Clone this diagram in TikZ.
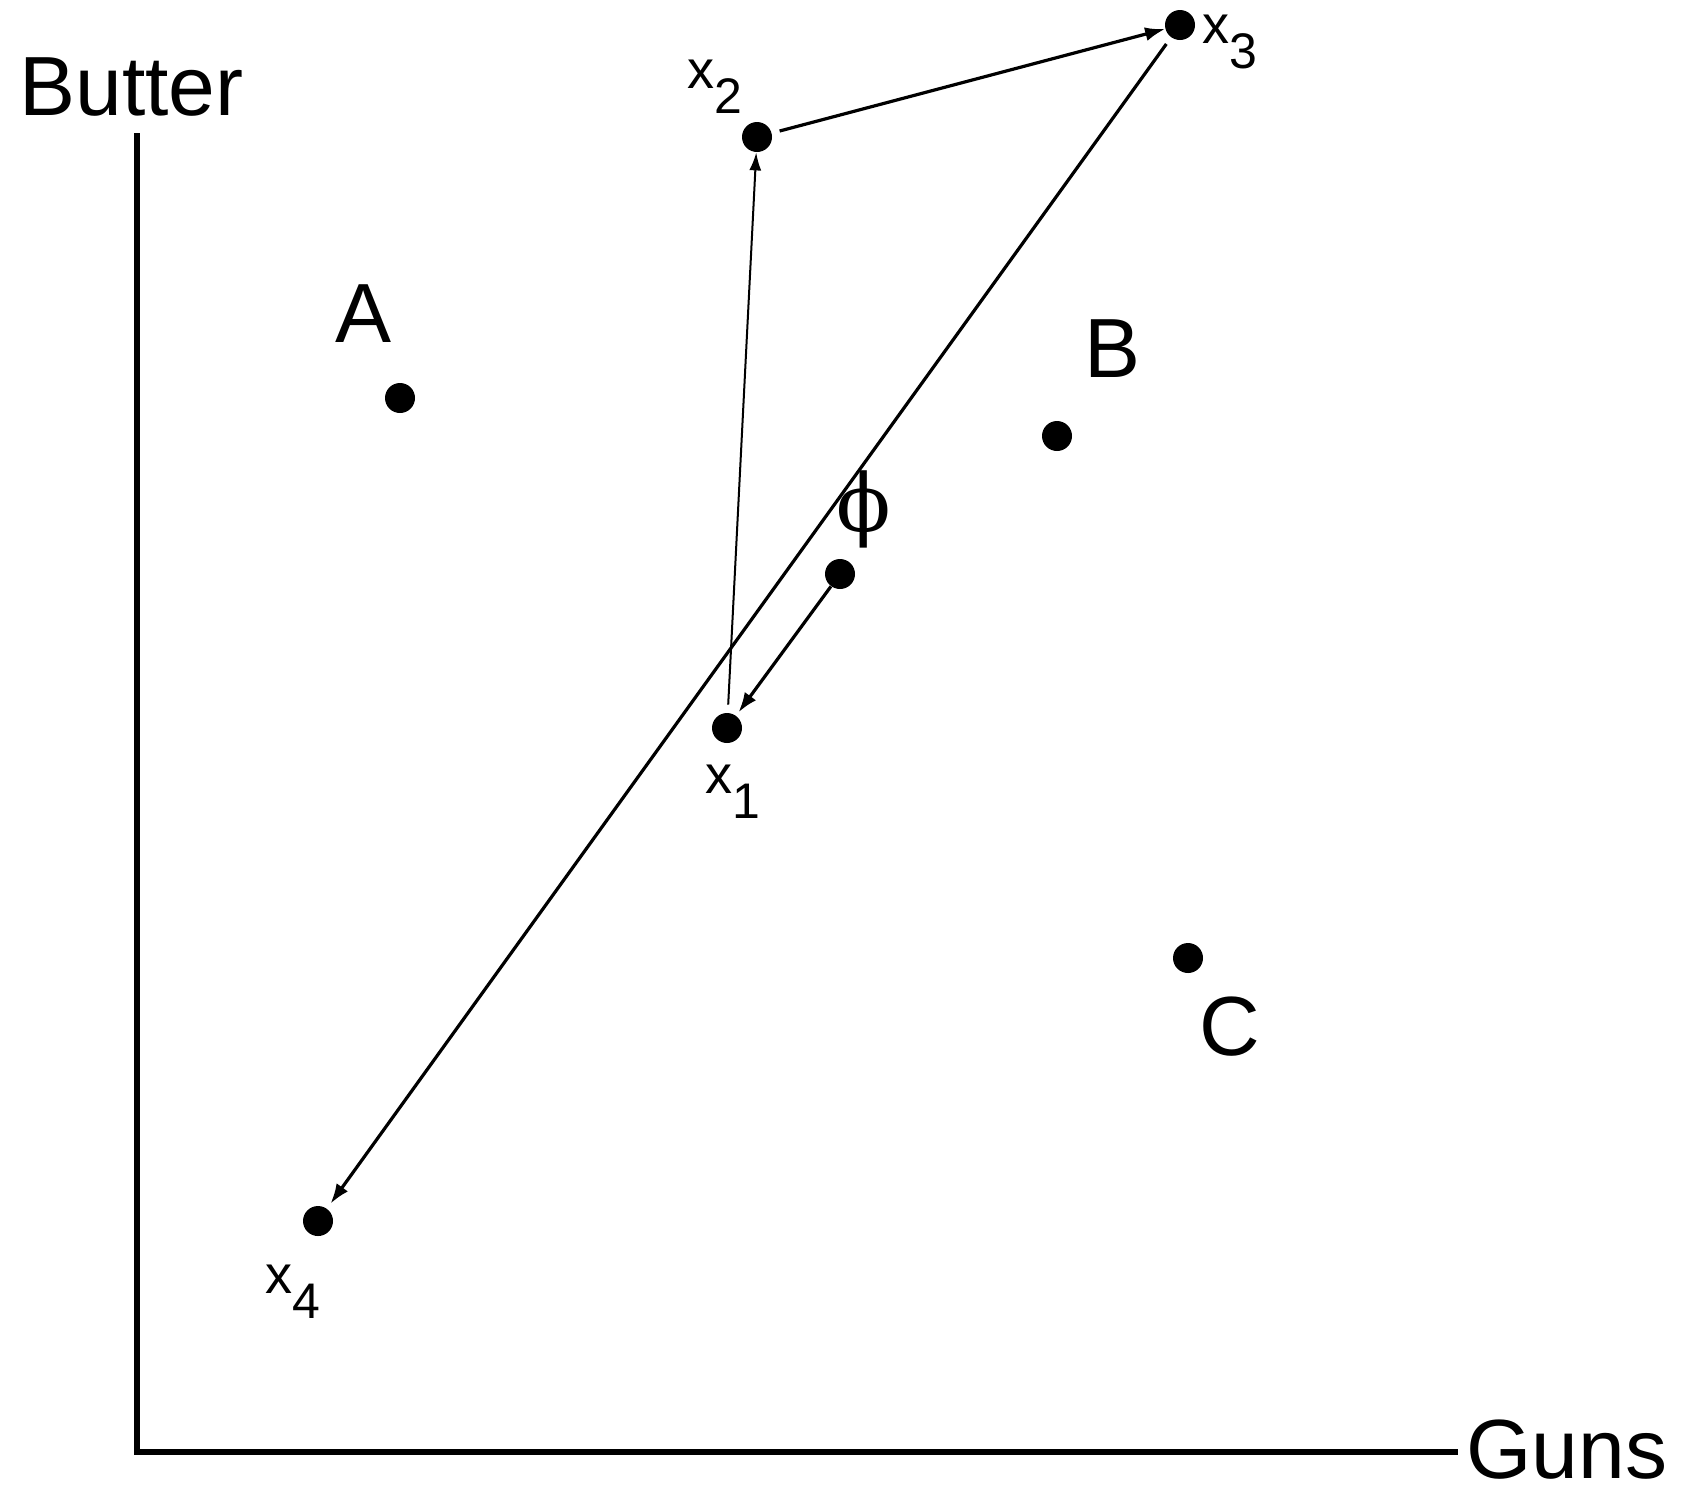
\documentclass[tikz,border=0pt]{standalone}
\usepackage{fontspec}
\setmainfont{Liberation Sans}
\newfontfamily\phifont{DejaVu Serif}
\usetikzlibrary{arrows.meta}
\newcommand\xsub[1]{x\raisebox{-12.5pt}{\fontsize{25}{30}\selectfont #1}}
\begin{document}
\begin{tikzpicture}[x=0.5pt,y=-0.5pt,
  dot/.style={circle,fill=black,inner sep=0pt,minimum size=15pt},
  big/.style={font=\fontsize{42}{50}\selectfont,inner sep=0pt,anchor=base west},
  sub/.style={font=\fontsize{27}{30}\selectfont,inner sep=0pt,anchor=base west},
  arr/.style={line width=1.6pt,-{Latex[length=10pt,width=7pt]}},
  thinarr/.style={line width=1pt,-{Latex[length=9pt,width=6pt]}},
  axis/.style={line width=3.3pt}]
\useasboundingbox (0,0) rectangle (1684,1490);
% axes
\coordinate (ytop) at (137,133);
\coordinate (orig) at (137,1452);
\coordinate (xend) at (1458,1452);
\draw[axis] (ytop) -- (orig) -- (xend);
\node[big] (butter) at (19,115) {Butter};
\node[big] (guns) at (1466,1478) {Guns};
% points
\node[dot] (A) at (400,398) {};
\node[dot] (B) at (1057,436) {};
\node[dot] (C) at (1188,958) {};
\node[dot] (phi) at (840,574) {};
\node[dot] (x1) at (727,728) {};
\node[dot] (x2) at (757,137) {};
\node[dot] (x3) at (1180,25) {};
\node[dot] (x4) at (318,1221) {};
% labels
\node[big] (lA) at (335,342) {A};
\node[big] (lB) at (1084,377) {B};
\node[big] (lC) at (1199,1055) {C};
\node[inner sep=0pt,font=\fontsize{40}{48}\phifont\selectfont] (lphi) at (864,509) {ϕ};
\node[sub] (l1) at (705,793) {\xsub{1}};
\node[sub] (l2) at (687,88) {\xsub{2}};
\node[sub] (l3) at (1202,43) {\xsub{3}};
\node[sub] (l4) at (265,1293) {\xsub{4}};
% connectors
\draw[thinarr,shorten <=4pt] (x1) -- (x2);
\draw[arr,shorten <=4pt] (x2) -- (x3);
\draw[arr,shorten <=4pt,shorten >=3pt] (x3) -- (x4);
\draw[arr,shorten >=2pt] (phi) -- (x1);
\end{tikzpicture}
\end{document}
